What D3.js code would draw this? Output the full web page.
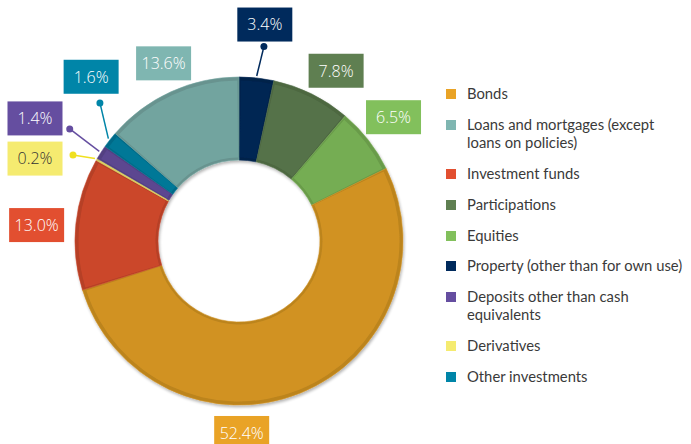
<!DOCTYPE html>
<html>
<head>
<meta charset="utf-8">
<script src="https://cdn.jsdelivr.net/npm/d3@7"></script>
<style>
  html, body { margin: 0; padding: 0; background: #fff; }
  svg { display: block; }
</style>
</head>
<body>
<svg id="chart" width="691" height="444"></svg>
<script>
// Investment portfolio breakdown, clockwise from 12 o'clock
const categories = [
  "Property (other than for own use)",
  "Participations",
  "Equities",
  "Bonds",
  "Investment funds",
  "Derivatives",
  "Deposits other than cash equivalents",
  "Other investments",
  "Loans and mortgages (except loans on policies)"
];
const values = [3.4, 7.8, 6.5, 52.4, 13.0, 0.2, 1.4, 1.6, 13.6];
const colors = ["#002a5c", "#5f7f51", "#82c05c", "#e9a326", "#e24f30", "#f5eb70", "#654ea0", "#0085a8", "#7fb6b1"];

// Legend order and wrapped legend text
const legendOrder = [
  "Bonds",
  "Loans and mortgages (except loans on policies)",
  "Investment funds",
  "Participations",
  "Equities",
  "Property (other than for own use)",
  "Deposits other than cash equivalents",
  "Derivatives",
  "Other investments"
];
const legendLines = {
  "Loans and mortgages (except loans on policies)": ["Loans and mortgages (except", "loans on policies)"],
  "Deposits other than cash equivalents": ["Deposits other than cash", "equivalents"]
};

// Where each value label sits: box centre (angle deg, radius) and optional leader dot
const labelSpots = {
  "Property (other than for own use)": { box: [6.8, 218], dot: [7.3, 196] },
  "Participations": { box: [29.7, 196] },
  "Equities": { box: [51.3, 198] },
  "Bonds": { box: [179.2, 192] },
  "Investment funds": { box: [274.5, 203] },
  "Derivatives": { box: [292, 220], dot: [297.4, 187] },
  "Deposits other than cash equivalents": { box: [301, 238], dot: [303.5, 203] },
  "Other investments": { box: [318, 221], dot: [314.8, 196] },
  "Loans and mortgages (except loans on policies)": { box: [337, 193] }
};

const svg = d3.select("#chart");
const cx = 239, cy = 241, rOuter = 164, rInner = 81;

const color = d3.scaleOrdinal().domain(categories).range(colors);
const data = categories.map((c, i) => ({ name: c, value: values[i] }));

const pie = d3.pie().value(d => d.value).sort(null);
const arcs = pie(data);

const defs = svg.append("defs");
const shadow = defs.append("filter").attr("id", "shadow")
  .attr("x", "-20%").attr("y", "-20%").attr("width", "140%").attr("height", "140%");
shadow.append("feGaussianBlur").attr("in", "SourceAlpha").attr("stdDeviation", 1.5);
shadow.append("feOffset").attr("dx", 1).attr("dy", 2).attr("result", "b");
shadow.append("feComponentTransfer").append("feFuncA").attr("type", "linear").attr("slope", 0.3);
const merge = shadow.append("feMerge");
merge.append("feMergeNode");
merge.append("feMergeNode").attr("in", "SourceGraphic");

const g = svg.append("g").attr("transform", `translate(${cx},${cy})`);

const arcOuter = d3.arc().innerRadius(rInner).outerRadius(rOuter);
const arcFace = d3.arc().innerRadius(rInner + 2.5).outerRadius(rOuter - 3.5);

const rad = a => a * Math.PI / 180;
const polar = (a, r) => [r * Math.sin(rad(a)), -r * Math.cos(rad(a))];

const ring = g.append("g").attr("filter", "url(#shadow)");

// Bevelled slices: darker rim, then an inset face in the slice colour
ring.selectAll("path.rim")
  .data(arcs)
  .join("path")
  .attr("class", "rim")
  .attr("d", arcOuter)
  .attr("fill", d => d3.color(color(d.data.name)).darker(0.6))
  .attr("stroke", d => d3.color(color(d.data.name)).darker(0.3))
  .attr("stroke-width", 0.6);

ring.selectAll("path.face")
  .data(arcs)
  .join("path")
  .attr("class", "face")
  .attr("d", d => {
    const pad = Math.min(0.01, (d.endAngle - d.startAngle) * 0.2);
    return arcFace({ ...d, startAngle: d.startAngle + pad, endAngle: d.endAngle - pad });
  })
  .attr("fill", d => d3.color(color(d.data.name)).darker(0.3));

// Value labels
const labels = g.append("g");
arcs.forEach(d => {
  const spot = labelSpots[d.data.name];
  const c = color(d.data.name);
  const accent = d.data.name === "Derivatives" ? "#f0e020" : c;
  if (spot.dot) {
    const mid = (d.startAngle + d.endAngle) / 2 * 180 / Math.PI;
    const p0 = polar(mid, rOuter + 2);
    const p1 = polar(spot.dot[0], spot.dot[1]);
    labels.append("line")
      .attr("x1", p0[0]).attr("y1", p0[1])
      .attr("x2", p1[0]).attr("y2", p1[1])
      .attr("stroke", accent)
      .attr("stroke-width", 1.5);
    labels.append("circle")
      .attr("cx", p1[0]).attr("cy", p1[1]).attr("r", 3.5)
      .attr("fill", accent);
  }
  const [bx, by] = polar(spot.box[0], spot.box[1]);
  const bw = 55, bh = 34;
  labels.append("rect")
    .attr("x", bx - bw / 2).attr("y", by - bh / 2)
    .attr("width", bw).attr("height", bh)
    .attr("fill", c);
  labels.append("text")
    .attr("x", bx).attr("y", by)
    .attr("dy", "0.36em")
    .attr("text-anchor", "middle")
    .attr("font-family", "'Open Sans', 'Noto Sans', sans-serif")
    .attr("font-size", 16)
    .attr("font-weight", 300)
    .attr("fill", d.data.name === "Derivatives" ? "#333" : "#fff")
    .text(d3.format(".1f")(d.data.value) + "%");
});

// Legend: wrapped entries are one text element with stacked tspans
const legend = svg.append("g").attr("transform", "translate(446,0)");
const legendY = [94, 125, 174, 205, 236, 266, 297, 346, 377];
legendOrder.forEach((name, i) => {
  const item = legend.append("g").attr("transform", `translate(0,${legendY[i]})`);
  item.append("rect")
    .attr("x", 0).attr("y", -5).attr("width", 10).attr("height", 10)
    .attr("fill", color(name));
  const lines = legendLines[name] || [name];
  const text = item.append("text")
    .attr("x", 21).attr("y", 0)
    .attr("font-family", "Lato, 'Open Sans', sans-serif")
    .attr("font-size", 14.8)
    .attr("fill", "#3a3a3a");
  lines.forEach((ln, j) => {
    text.append("tspan")
      .attr("x", 21)
      .attr("y", j * 18)
      .attr("dy", "0.35em")
      .text(ln);
  });
});
</script>
</body>
</html>
